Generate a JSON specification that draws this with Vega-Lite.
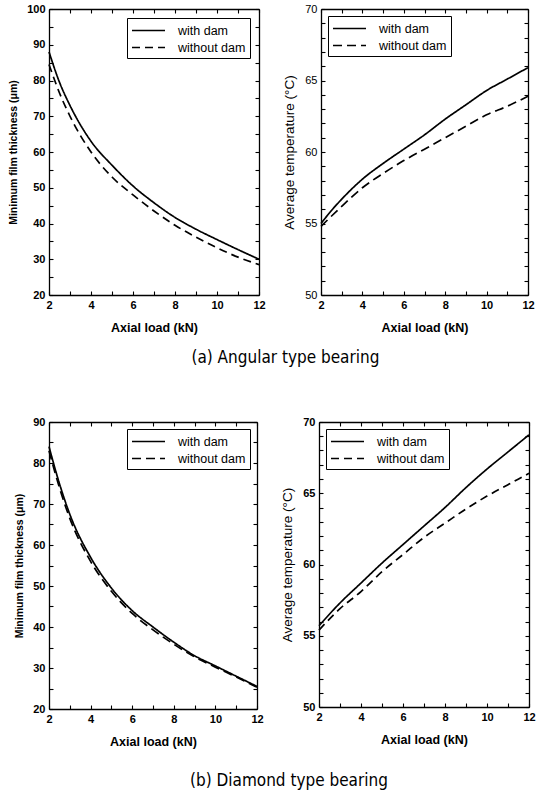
{
  "$schema": "https://vega.github.io/schema/vega-lite/v6.json",
  "padding": {"left": 8, "top": 3, "right": 10, "bottom": 2},
  "background": "white",
  "config": {
    "view": {"stroke": null},
    "font": "Liberation Sans",
    "axis": {
      "domainColor": "black", "domainWidth": 1.3, "tickColor": "black", "tickWidth": 1.1, "tickSize": -4,
      "grid": false, "labelFont": "Liberation Sans", "labelFontWeight": "bold", "labelFontSize": 11,
      "labelColor": "black", "titleFont": "Liberation Sans", "titleFontWeight": "bold", "titleFontSize": 10.5,
      "titleColor": "black", "labelPadding": 8, "labelFlush": false, "labelOverlap": false
    },
    "axisX": {"titlePadding": 11, "titleFontSize": 12.5},
    "axisY": {"titlePadding": 8},
    "legend": {
      "strokeColor": "black", "padding": 4, "rowPadding": 2, "labelFont": "Liberation Sans",
      "labelFontSize": 12.5, "labelColor": "black", "symbolType": "M-2.2,0H2.2", "symbolSize": 225,
      "symbolStrokeWidth": 1.7, "symbolStrokeColor": "black", "symbolOffset": 9, "fillColor": "white", "offset": 7,
      "labelOffset": 21
    },
    "title": {"font": "'Liberation Sans Narrow', 'DejaVu Sans Condensed', 'Roboto Condensed', 'Liberation Sans', sans-serif", "fontSize": 17, "fontWeight": "normal", "color": "black"}
  },
  "datasets": {
    "a_film": [
      {"load": 2, "value": 88, "series": "with dam"}, {"load": 2.5, "value": 79.5, "series": "with dam"},
      {"load": 3, "value": 73, "series": "with dam"}, {"load": 4, "value": 63, "series": "with dam"},
      {"load": 5, "value": 56.3, "series": "with dam"}, {"load": 6, "value": 50.5, "series": "with dam"},
      {"load": 7, "value": 45.8, "series": "with dam"}, {"load": 8, "value": 41.7, "series": "with dam"},
      {"load": 9, "value": 38.4, "series": "with dam"}, {"load": 10, "value": 35.5, "series": "with dam"},
      {"load": 11, "value": 32.7, "series": "with dam"}, {"load": 12, "value": 30, "series": "with dam"},
      {"load": 2, "value": 84.5, "series": "without dam"}, {"load": 2.5, "value": 76.5, "series": "without dam"},
      {"load": 3, "value": 70, "series": "without dam"}, {"load": 4, "value": 60, "series": "without dam"},
      {"load": 5, "value": 53, "series": "without dam"}, {"load": 6, "value": 48, "series": "without dam"},
      {"load": 7, "value": 43.5, "series": "without dam"}, {"load": 8, "value": 39.5, "series": "without dam"},
      {"load": 9, "value": 36.2, "series": "without dam"}, {"load": 10, "value": 33.2, "series": "without dam"},
      {"load": 11, "value": 30.6, "series": "without dam"}, {"load": 12, "value": 28.5, "series": "without dam"}
    ],
    "a_temp": [
      {"load": 2, "value": 55, "series": "with dam"}, {"load": 2.5, "value": 55.9, "series": "with dam"},
      {"load": 3, "value": 56.7, "series": "with dam"}, {"load": 4, "value": 58.1, "series": "with dam"},
      {"load": 5, "value": 59.2, "series": "with dam"}, {"load": 6, "value": 60.2, "series": "with dam"},
      {"load": 7, "value": 61.2, "series": "with dam"}, {"load": 8, "value": 62.3, "series": "with dam"},
      {"load": 9, "value": 63.3, "series": "with dam"}, {"load": 10, "value": 64.3, "series": "with dam"},
      {"load": 11, "value": 65.1, "series": "with dam"}, {"load": 12, "value": 65.9, "series": "with dam"},
      {"load": 2, "value": 54.8, "series": "without dam"}, {"load": 3, "value": 56.2, "series": "without dam"},
      {"load": 4, "value": 57.5, "series": "without dam"}, {"load": 5, "value": 58.5, "series": "without dam"},
      {"load": 6, "value": 59.4, "series": "without dam"}, {"load": 7, "value": 60.2, "series": "without dam"},
      {"load": 8, "value": 61.0, "series": "without dam"}, {"load": 9, "value": 61.8, "series": "without dam"},
      {"load": 10, "value": 62.6, "series": "without dam"}, {"load": 11, "value": 63.2, "series": "without dam"},
      {"load": 12, "value": 63.9, "series": "without dam"}
    ],
    "b_film": [
      {"load": 2, "value": 84, "series": "with dam"}, {"load": 2.5, "value": 75, "series": "with dam"},
      {"load": 3, "value": 67.5, "series": "with dam"}, {"load": 4, "value": 57, "series": "with dam"},
      {"load": 5, "value": 49.5, "series": "with dam"}, {"load": 6, "value": 44, "series": "with dam"},
      {"load": 7, "value": 40, "series": "with dam"}, {"load": 8, "value": 36.3, "series": "with dam"},
      {"load": 9, "value": 33, "series": "with dam"}, {"load": 10, "value": 30.5, "series": "with dam"},
      {"load": 11, "value": 28, "series": "with dam"}, {"load": 12, "value": 25.5, "series": "with dam"},
      {"load": 2, "value": 83, "series": "without dam"}, {"load": 2.5, "value": 74, "series": "without dam"},
      {"load": 3, "value": 66.5, "series": "without dam"}, {"load": 4, "value": 56, "series": "without dam"},
      {"load": 5, "value": 48.7, "series": "without dam"}, {"load": 6, "value": 43.3, "series": "without dam"},
      {"load": 7, "value": 39.3, "series": "without dam"}, {"load": 8, "value": 35.8, "series": "without dam"},
      {"load": 9, "value": 32.7, "series": "without dam"}, {"load": 10, "value": 30.2, "series": "without dam"},
      {"load": 11, "value": 27.8, "series": "without dam"}, {"load": 12, "value": 25.3, "series": "without dam"}
    ],
    "b_temp": [
      {"load": 2, "value": 55.7, "series": "with dam"}, {"load": 3, "value": 57.3, "series": "with dam"},
      {"load": 4, "value": 58.7, "series": "with dam"}, {"load": 5, "value": 60.1, "series": "with dam"},
      {"load": 6, "value": 61.4, "series": "with dam"}, {"load": 7, "value": 62.7, "series": "with dam"},
      {"load": 8, "value": 64.0, "series": "with dam"}, {"load": 9, "value": 65.4, "series": "with dam"},
      {"load": 10, "value": 66.7, "series": "with dam"}, {"load": 11, "value": 67.9, "series": "with dam"},
      {"load": 12, "value": 69.1, "series": "with dam"},
      {"load": 2, "value": 55.4, "series": "without dam"}, {"load": 3, "value": 56.9, "series": "without dam"},
      {"load": 4, "value": 58.1, "series": "without dam"}, {"load": 5, "value": 59.5, "series": "without dam"},
      {"load": 6, "value": 60.7, "series": "without dam"}, {"load": 7, "value": 61.9, "series": "without dam"},
      {"load": 8, "value": 62.9, "series": "without dam"}, {"load": 9, "value": 63.9, "series": "without dam"},
      {"load": 10, "value": 64.8, "series": "without dam"}, {"load": 11, "value": 65.6, "series": "without dam"},
      {"load": 12, "value": 66.4, "series": "without dam"}
    ]
  },
  "resolve": {"scale": {"strokeDash": "independent"}, "legend": {"strokeDash": "independent"}},
  "spacing": 50,
  "vconcat": [
    {
      "title": {"text": "(a) Angular type bearing", "orient": "bottom", "anchor": "middle", "offset": 16, "dx": 14},
      "spacing": 16,
      "resolve": {"scale": {"strokeDash": "independent"}, "legend": {"strokeDash": "independent"}},
      "hconcat": [
        {
          "width": 210, "height": 286,
          "data": {"name": "a_film"},
          "layer": [
            {
              "mark": {"type": "line", "color": "black", "strokeWidth": 1.7, "interpolate": "monotone"},
              "encoding": {
                "x": {"field": "load", "type": "quantitative", "scale": {"domain": [2, 12], "nice": false, "zero": false},
                  "axis": {"orient": "bottom", "values": [2, 3, 4, 5, 6, 7, 8, 9, 10, 11, 12], "labelExpr": "datum.value % 2 === 0 ? datum.label : ''", "title": "Axial load (kN)"}},
                "y": {"field": "value", "type": "quantitative", "scale": {"domain": [20, 100], "nice": false, "zero": false},
                  "axis": {"values": [20, 25, 30, 35, 40, 45, 50, 55, 60, 65, 70, 75, 80, 85, 90, 95, 100], "labelExpr": "datum.value % 10 === 0 ? datum.label : ''", "title": "Minimum film thickness (μm)"}},
                "strokeDash": {"field": "series", "type": "nominal", "scale": {"domain": ["with dam", "without dam"], "range": [[1, 0], [8, 5]]},
                  "legend": {"orient": "top-right", "title": null, "offset": 9}}
              }
            },
            {
              "mark": {"type": "line", "opacity": 0},
              "encoding": {
                "x": {"field": "load", "type": "quantitative", "axis": {"orient": "top", "values": [2, 3, 4, 5, 6, 7, 8, 9, 10, 11, 12], "labels": false, "title": null}},
                "y": {"field": "value", "type": "quantitative", "axis": {"orient": "right", "values": [20, 25, 30, 35, 40, 45, 50, 55, 60, 65, 70, 75, 80, 85, 90, 95, 100], "labels": false, "title": null}}
              }
            }
          ],
          "resolve": {"axis": {"x": "independent", "y": "independent"}}
        },
        {
          "width": 207, "height": 286,
          "data": {"name": "a_temp"},
          "layer": [
            {
              "mark": {"type": "line", "color": "black", "strokeWidth": 1.7, "interpolate": "monotone"},
              "encoding": {
                "x": {"field": "load", "type": "quantitative", "scale": {"domain": [2, 12], "nice": false, "zero": false},
                  "axis": {"orient": "bottom", "values": [2, 3, 4, 5, 6, 7, 8, 9, 10, 11, 12], "labelExpr": "datum.value % 2 === 0 ? datum.label : ''", "title": "Axial load (kN)"}},
                "y": {"field": "value", "type": "quantitative", "scale": {"domain": [50, 70], "nice": false, "zero": false},
                  "axis": {"values": [50, 51, 52, 53, 54, 55, 56, 57, 58, 59, 60, 61, 62, 63, 64, 65, 66, 67, 68, 69, 70], "labelExpr": "datum.value % 5 === 0 ? datum.label : ''",
                    "labelFontWeight": "normal", "title": "Average temperature (°C)", "titleFontWeight": "normal", "titleFontSize": 13.5}},
                "strokeDash": {"field": "series", "type": "nominal", "scale": {"domain": ["with dam", "without dam"], "range": [[1, 0], [9, 5]]},
                  "legend": {"orient": "top-left", "title": null, "offset": 7}}
              }
            },
            {
              "mark": {"type": "line", "opacity": 0},
              "encoding": {
                "x": {"field": "load", "type": "quantitative", "axis": {"orient": "top", "values": [2, 3, 4, 5, 6, 7, 8, 9, 10, 11, 12], "labels": false, "title": null}},
                "y": {"field": "value", "type": "quantitative", "axis": {"orient": "right", "values": [50, 51, 52, 53, 54, 55, 56, 57, 58, 59, 60, 61, 62, 63, 64, 65, 66, 67, 68, 69, 70], "labels": false, "title": null}}
              }
            }
          ],
          "resolve": {"axis": {"x": "independent", "y": "independent"}}
        }
      ]
    },
    {
      "title": {"text": "(b) Diamond type bearing", "orient": "bottom", "anchor": "middle", "offset": 25, "dx": 14},
      "spacing": 16,
      "resolve": {"scale": {"strokeDash": "independent"}, "legend": {"strokeDash": "independent"}},
      "hconcat": [
        {
          "width": 208, "height": 287,
          "data": {"name": "b_film"},
          "layer": [
            {
              "mark": {"type": "line", "color": "black", "strokeWidth": 1.7, "interpolate": "monotone"},
              "encoding": {
                "x": {"field": "load", "type": "quantitative", "scale": {"domain": [2, 12], "nice": false, "zero": false},
                  "axis": {"orient": "bottom", "values": [2, 3, 4, 5, 6, 7, 8, 9, 10, 11, 12], "labelExpr": "datum.value % 2 === 0 ? datum.label : ''", "title": "Axial load (kN)"}},
                "y": {"field": "value", "type": "quantitative", "scale": {"domain": [20, 90], "nice": false, "zero": false},
                  "axis": {"values": [20, 25, 30, 35, 40, 45, 50, 55, 60, 65, 70, 75, 80, 85, 90], "labelExpr": "datum.value % 10 === 0 ? datum.label : ''", "title": "Minimum film thickness (μm)"}},
                "strokeDash": {"field": "series", "type": "nominal", "scale": {"domain": ["with dam", "without dam"], "range": [[1, 0], [9, 5]]},
                  "legend": {"orient": "top-right", "title": null, "offset": 7}}
              }
            },
            {
              "mark": {"type": "line", "opacity": 0},
              "encoding": {
                "x": {"field": "load", "type": "quantitative", "axis": {"orient": "top", "values": [2, 3, 4, 5, 6, 7, 8, 9, 10, 11, 12], "labels": false, "title": null}},
                "y": {"field": "value", "type": "quantitative", "axis": {"orient": "right", "values": [20, 25, 30, 35, 40, 45, 50, 55, 60, 65, 70, 75, 80, 85, 90], "labels": false, "title": null}}
              }
            }
          ],
          "resolve": {"axis": {"x": "independent", "y": "independent"}}
        },
        {
          "width": 210, "height": 285,
          "data": {"name": "b_temp"},
          "layer": [
            {
              "mark": {"type": "line", "color": "black", "strokeWidth": 1.7, "interpolate": "monotone"},
              "encoding": {
                "x": {"field": "load", "type": "quantitative", "scale": {"domain": [2, 12], "nice": false, "zero": false},
                  "axis": {"orient": "bottom", "values": [2, 3, 4, 5, 6, 7, 8, 9, 10, 11, 12], "labelExpr": "datum.value % 2 === 0 ? datum.label : ''", "title": "Axial load (kN)"}},
                "y": {"field": "value", "type": "quantitative", "scale": {"domain": [50, 70], "nice": false, "zero": false},
                  "axis": {"values": [50, 51, 52, 53, 54, 55, 56, 57, 58, 59, 60, 61, 62, 63, 64, 65, 66, 67, 68, 69, 70], "labelExpr": "datum.value % 5 === 0 ? datum.label : ''",
                    "title": "Average temperature (°C)", "titleFontWeight": "normal", "titleFontSize": 13.5}},
                "strokeDash": {"field": "series", "type": "nominal", "scale": {"domain": ["with dam", "without dam"], "range": [[1, 0], [8, 5]]},
                  "legend": {"orient": "top-left", "title": null, "offset": 7}}
              }
            },
            {
              "mark": {"type": "line", "opacity": 0},
              "encoding": {
                "x": {"field": "load", "type": "quantitative", "axis": {"orient": "top", "values": [2, 3, 4, 5, 6, 7, 8, 9, 10, 11, 12], "labels": false, "title": null}},
                "y": {"field": "value", "type": "quantitative", "axis": {"orient": "right", "values": [50, 51, 52, 53, 54, 55, 56, 57, 58, 59, 60, 61, 62, 63, 64, 65, 66, 67, 68, 69, 70], "labels": false, "title": null}}
              }
            }
          ],
          "resolve": {"axis": {"x": "independent", "y": "independent"}}
        }
      ]
    }
  ]
}
